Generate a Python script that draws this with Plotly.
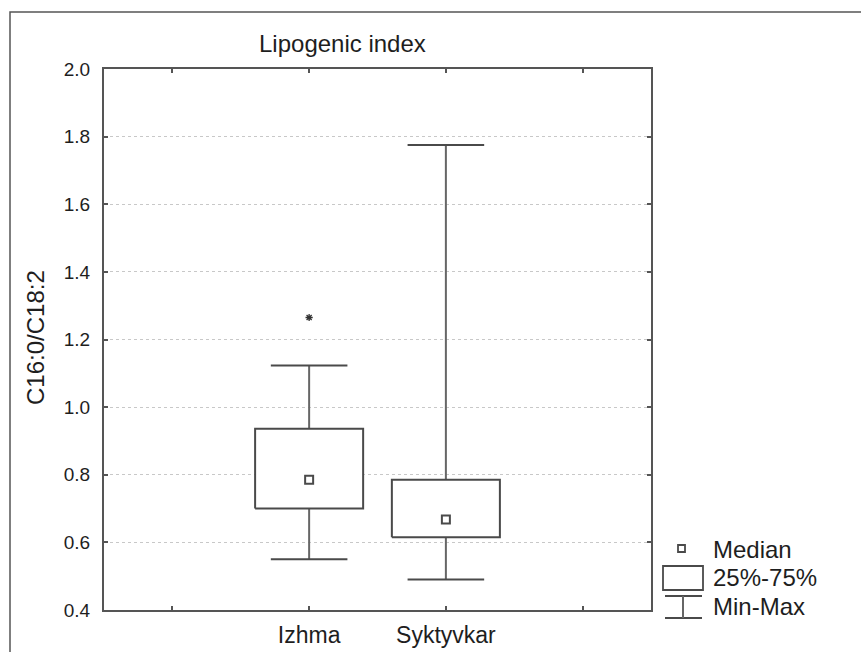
import plotly.graph_objects as go

categories = ["Izhma", "Syktyvkar"]
minimum = [0.55, 0.49]
q1 = [0.70, 0.615]
median = [0.785, 0.668]
q3 = [0.936, 0.785]
maximum = [1.123, 1.775]
outlier_cat = ["Izhma"]
outlier_val = [1.265]

y_ticks = [0.4, 0.6, 0.8, 1.0, 1.2, 1.4, 1.6, 1.8, 2.0]

BOX_W = 0.79
CAP_W = 0.56
LINE = "#4a4a4a"
WHISK = "#666666"
TXT = "#1e1e1e"
FONT = "Liberation Sans, Arial, sans-serif"

pos = {c: i for i, c in enumerate(categories)}

fig = go.Figure()

# whiskers (vertical)
wx, wy = [], []
for i, c in enumerate(categories):
    wx += [i, i, None, i, i, None]
    wy += [q3[i], maximum[i], None, q1[i], minimum[i], None]
fig.add_trace(go.Scatter(x=wx, y=wy, mode="lines", line=dict(color=WHISK, width=2),
                         hoverinfo="skip", showlegend=False))
# caps
cx, cy = [], []
for i, c in enumerate(categories):
    for v in (maximum[i], minimum[i]):
        cx += [i - CAP_W / 2, i + CAP_W / 2, None]
        cy += [v, v, None]
fig.add_trace(go.Scatter(x=cx, y=cy, mode="lines", line=dict(color=LINE, width=2),
                         hoverinfo="skip", showlegend=False))
# boxes
for i, c in enumerate(categories):
    fig.add_trace(go.Scatter(
        x=[i - BOX_W / 2, i + BOX_W / 2, i + BOX_W / 2, i - BOX_W / 2, i - BOX_W / 2],
        y=[q1[i], q1[i], q3[i], q3[i], q1[i]],
        mode="lines", fill="toself", fillcolor="white",
        line=dict(color=LINE, width=2), hoverinfo="skip", showlegend=False))
# medians
fig.add_trace(go.Scatter(x=[pos[c] for c in categories], y=median, mode="markers",
                         marker=dict(symbol="square-open", size=8, color=LINE, line=dict(width=2)),
                         showlegend=False))
# outliers
fig.add_trace(go.Scatter(x=[pos[c] for c in outlier_cat], y=outlier_val, mode="markers",
                         marker=dict(symbol="asterisk-open", size=6, color="#333333", line=dict(width=1.3)),
                         showlegend=False))

L, R, T, B = 104, 651, 69, 610          # plot area in picture coords
W, H = 861, 652
pw, ph = R - L, B - T

def px(x):
    return (x - L) / pw

def py(y):
    return (B - y) / ph

shapes = []
# outer frame
shapes.append(dict(type="rect", xref="paper", yref="paper", x0=px(10), x1=px(900), y0=py(700), y1=py(12),
                   line=dict(color="#555555", width=1.5), fillcolor="rgba(0,0,0,0)", layer="below"))
# legend symbols
shapes.append(dict(type="rect", xref="paper", yref="paper", x0=px(678), x1=px(685), y0=py(552), y1=py(545),
                   line=dict(color=LINE, width=1.8)))
shapes.append(dict(type="rect", xref="paper", yref="paper", x0=px(663), x1=px(703), y0=py(590), y1=py(566),
                   line=dict(color=LINE, width=1.8)))
shapes.append(dict(type="line", xref="paper", yref="paper", x0=px(665), x1=px(702), y0=py(596), y1=py(596),
                   line=dict(color=LINE, width=2)))
shapes.append(dict(type="line", xref="paper", yref="paper", x0=px(665), x1=px(702), y0=py(618), y1=py(618),
                   line=dict(color=LINE, width=2)))
shapes.append(dict(type="line", xref="paper", yref="paper", x0=px(683), x1=px(683), y0=py(596), y1=py(618),
                   line=dict(color=WHISK, width=2)))

annotations = [
    dict(text="Lipogenic index", xref="paper", yref="paper", x=px(342), y=py(43), showarrow=False,
         font=dict(family=FONT, size=24, color=TXT), xanchor="center", yanchor="middle"),
    dict(text="C16:0/C18:2", xref="paper", yref="paper", x=px(35), y=py(338), showarrow=False, textangle=-90,
         font=dict(family=FONT, size=24, color=TXT), xanchor="center", yanchor="middle"),
]
for lbl, yy in (("Median", 549), ("25%-75%", 577), ("Min-Max", 606)):
    annotations.append(dict(text=lbl, xref="paper", yref="paper", x=px(711), y=py(yy), showarrow=False,
                            font=dict(family=FONT, size=24, color=TXT), xanchor="left", yanchor="middle"))

fig.update_layout(
    width=W, height=H,
    margin=dict(l=L, r=W - R, t=T, b=H - B, autoexpand=False),
    paper_bgcolor="white", plot_bgcolor="white",
    showlegend=False,
    shapes=shapes,
    annotations=annotations,
    xaxis=dict(range=[-1.5, 2.5], tickvals=[-1, 0, 1, 2], ticktext=["", categories[0], categories[1], ""],
               automargin=False,
               showgrid=False, zeroline=False, showline=True, linecolor="#555555", linewidth=2, mirror="ticks",
               ticks="inside", ticklen=4, tickcolor="#555555", tickwidth=1.5,
               tickfont=dict(family=FONT, size=23, color=TXT), ticklabelstandoff=3),
    yaxis=dict(range=[0.4, 2.0], tickvals=y_ticks, ticktext=[f"{v:.1f}" for v in y_ticks],
               automargin=False,
               showgrid=True, gridcolor="#c8c8c8", griddash="dot", gridwidth=1, zeroline=False,
               showline=True, linecolor="#555555", linewidth=2, mirror="ticks",
               ticks="inside", ticklen=4, tickcolor="#555555", tickwidth=1.5,
               tickfont=dict(family=FONT, size=19, color=TXT), ticklabelstandoff=8),
)

fig.write_html("out.html", config={"displayModeBar": False},
               post_script="document.body.style.margin='0';document.body.style.overflow='hidden';")
